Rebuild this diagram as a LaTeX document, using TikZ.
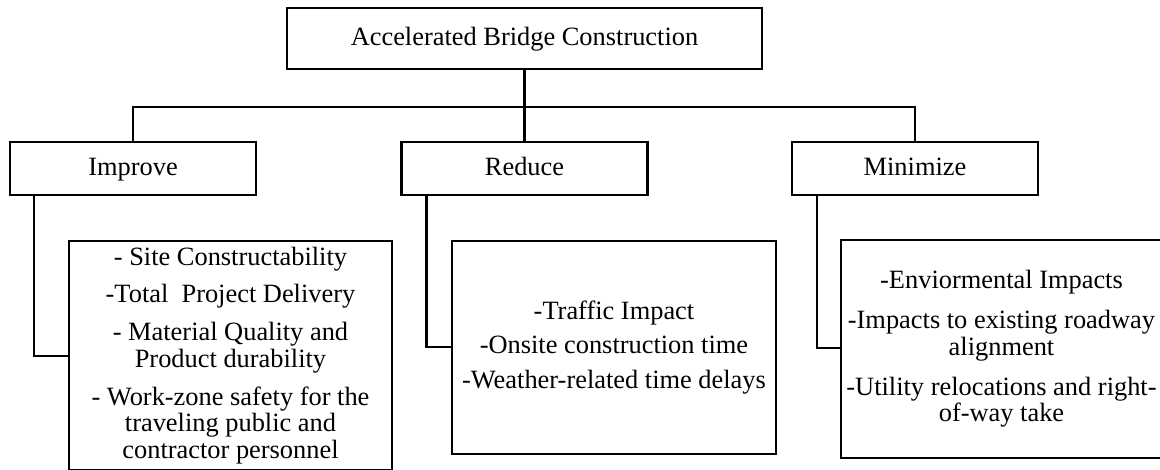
\documentclass[tikz,border=0pt]{standalone}
\usepackage{fontspec}
\setmainfont{Liberation Serif}
\begin{document}
\begin{tikzpicture}[x=1pt,y=-1pt,
  box/.style={draw, line width=2.9pt, rectangle, inner sep=0pt, outer sep=0pt,
    align=center, font=\fontsize{26.4}{26.7}\selectfont},
  title/.style={box, text height=19pt, text depth=4pt},
  head/.style={title, minimum width=246pt, minimum height=53pt},
  link/.style={line width=2.9pt}]
\useasboundingbox (0,0) rectangle (1160,470);

% root and the three goals
\node[title, minimum width=475pt, minimum height=61pt] (abc) at (524.5,38.5) {Accelerated Bridge Construction};
\node[head] (imp) at (133,168.5) {Improve};
\node[head] (red) at (524.5,168.5) {Reduce};
\node[head] (min) at (915,168.5) {Minimize};

% detail lists
\node[box, minimum width=323pt, minimum height=229pt] (impd) at (230.5,355.5)
  {- Site Constructability\\[11pt]
   -Total\ \ Project Delivery\\[11pt]
   - Material Quality and\\
   Product durability\\[11pt]
   - Work-zone safety for the\\
   traveling public and\\
   contractor personnel};
\node[box, minimum width=324pt, minimum height=213pt] (redd) at (614,347.5)
  {-Traffic Impact\\[8pt]
   -Onsite construction time\\[8pt]
   -Weather-related time delays};
\node[box, minimum width=321pt, minimum height=218pt] (mind) at (1001.5,349)
  {-Enviormental Impacts\\[13pt]
   -Impacts to existing roadway\\
   alignment\\[13pt]
   -Utility relocations and right-\\
   of-way take};

% tree connectors
\coordinate (bus) at (524.5,107);
\draw[link] (abc.south) -- (red.north);
\draw[link] (imp.north) |- (bus) -| (min.north);

% side connectors into the detail lists
\coordinate (impj) at (34,356);
\coordinate (redj) at (426.6,347);
\coordinate (minj) at (817,348);
\draw[link] (imp.south -| impj) |- (impd.west |- impj);
\draw[link] (red.south -| redj) |- (redd.west |- redj);
\draw[link] (min.south -| minj) |- (mind.west |- minj);
\end{tikzpicture}
\end{document}
